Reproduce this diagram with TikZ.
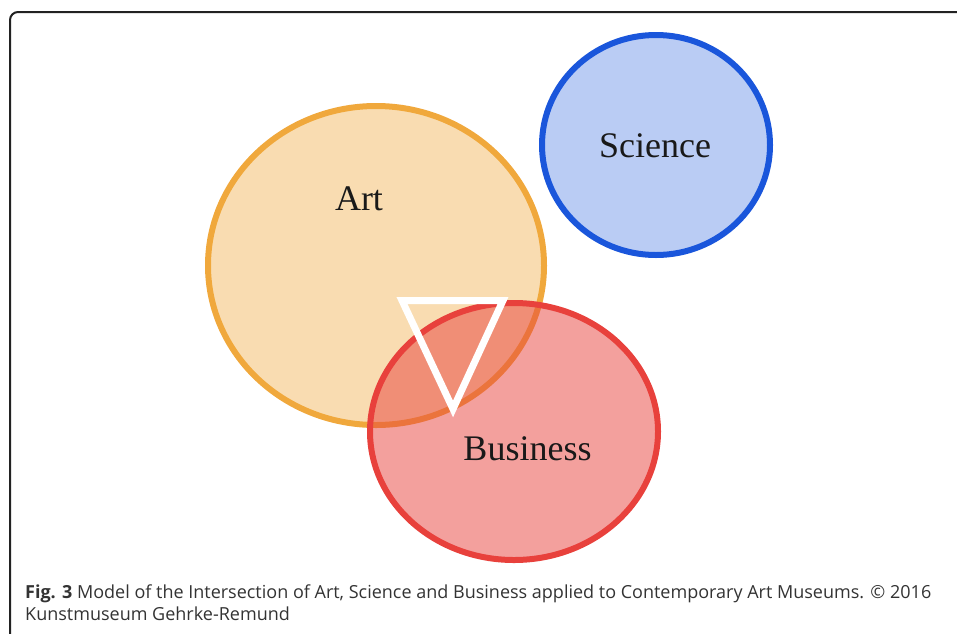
\documentclass[tikz,border=0pt]{standalone}
\usepackage{fontspec}
\setmainfont{Liberation Serif}
\newfontfamily\capfont{Open Sans}
\usetikzlibrary{shapes.geometric}
\definecolor{artc}{HTML}{F0A83C}
\definecolor{scic}{HTML}{1A56DB}
\definecolor{busc}{HTML}{E8413C}
\definecolor{framec}{HTML}{222222}
\definecolor{capc}{HTML}{333333}
\tikzset{
  circ/.style={ellipse, inner sep=0pt, line width=6pt},
  lbl/.style={font=\fontsize{36}{40}\selectfont, anchor=base, inner sep=0pt, text=black!90},
  captext/.style={font=\capfont\fontsize{18}{22}\selectfont, anchor=base west, inner sep=0pt, text=capc},
}
\begin{document}
\begin{tikzpicture}[x=1pt,y=-1pt]
\useasboundingbox (0,0) rectangle (957,633);
% frame
\coordinate (fb) at (10,640);
\coordinate (fr) at (965,12);
\draw[framec, line width=2pt, rounded corners=8pt] (fb) |- (fr);
% circles
\node[circ, draw=artc, fill=artc, fill opacity=0.4, minimum width=336pt, minimum height=319pt] (art) at (376,265.5) {};
\node[circ, draw=scic, fill=scic, fill opacity=0.3, minimum width=228pt, minimum height=220pt] (sci) at (656,145) {};
\node[circ, draw=busc, fill=busc, fill opacity=0.5, minimum width=288pt, minimum height=257pt] (bus) at (514,431.5) {};
% triangle
\coordinate (t1) at (402,300.5);
\coordinate (t2) at (503,300.5);
\coordinate (t3) at (453,409);
\draw[white, line width=7pt, line join=miter] (t1) -- (t2) -- (t3) -- cycle;
% labels
\node[lbl] (artl) at (359,210) {Art};
\node[lbl] (scil) at (655,157) {Science};
\node[lbl] (busl) at (527.5,460) {Business};
% caption
\node[captext] (cap1) at (25,598) {{\bfseries Fig. 3} Model of the Intersection of Art, Science and Business applied to Contemporary Art Museums. \textcopyright\ 2016};
\node[captext] (cap2) at (25,620) {Kunstmuseum Gehrke-Remund};
\end{tikzpicture}
\end{document}
